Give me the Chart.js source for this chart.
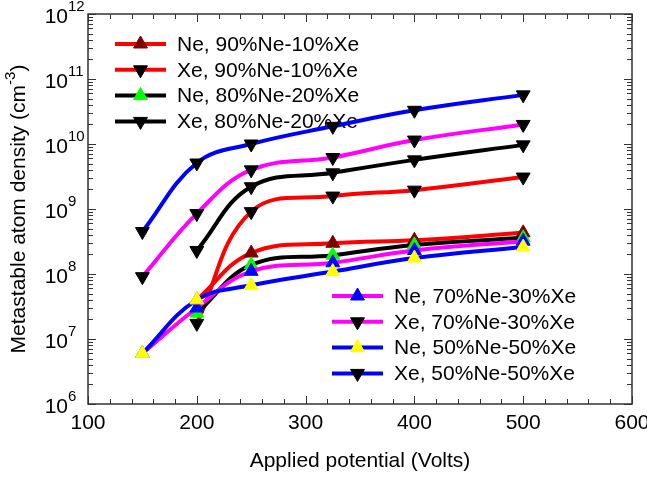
<!DOCTYPE html>
<html><head><meta charset="utf-8">
<script src="https://cdn.jsdelivr.net/npm/chart.js@4"></script>
<style>html,body{margin:0;padding:0;background:#fff}#wrap{width:647px;height:477px;position:relative}</style>
</head><body><div id="wrap"><canvas id="c"></canvas></div>
<script>
// Applied potential (Volts)
const voltages = [150, 200, 250, 325, 400, 500];
// Metastable atom densities (cm^-3); null = not measured
const ne90 = [null, 4.0e7, 2.1e8, 2.97e8, 3.3e8, 4.3e8];
const xe90 = [null, 1.74e7, 9.1e8, 1.58e9, 1.95e9, 3.1e9];
const ne80 = [null, 2.5e7, 1.38e8, 1.95e8, 2.8e8, 3.6e8];
const xe80 = [null, 2.3e8, 2.2e9, 3.6e9, 5.7e9, 9.7e9];
const ne70 = [6.0e6, 3.0e7, 1.1e8, 1.49e8, 2.3e8, 3.2e8];
const xe70 = [9.1e7, 8.5e8, 4.0e9, 6.2e9, 1.15e10, 2.0e10];
const ne50 = [6.0e6, 4.0e7, 6.7e7, 1.09e8, 1.76e8, 2.6e8];
const xe50 = [4.5e8, 5.1e9, 1.0e10, 1.87e10, 3.3e10, 5.7e10];
const seriesNames = ['Ne, 90%Ne-10%Xe','Xe, 90%Ne-10%Xe','Ne, 80%Ne-20%Xe','Xe, 80%Ne-20%Xe',
                     'Ne, 70%Ne-30%Xe','Xe, 70%Ne-30%Xe','Ne, 50%Ne-50%Xe','Xe, 50%Ne-50%Xe'];
const seriesValues = [ne90, xe90, ne80, xe80, ne70, xe70, ne50, xe50];
const xTickLabels = [100, 200, 300, 400, 500, 600];
const yTickExponents = [6, 7, 8, 9, 10, 11, 12];
const xTitle = 'Applied potential (Volts)';
const yTitle = 'Metastable atom density (cm';
const yTitleSup = '-3';

const FONT = "'Liberation Sans', Arial, Helvetica, sans-serif";
const styles = [
  {line:'#FF0000', fill:'#800000', rot:0},
  {line:'#FF0000', fill:'#000000', rot:180},
  {line:'#000000', fill:'#00FF00', rot:0},
  {line:'#000000', fill:'#000000', rot:180},
  {line:'#FF00FF', fill:'#0000FF', rot:0},
  {line:'#FF00FF', fill:'#000000', rot:180},
  {line:'#0000FF', fill:'#FFFF00', rot:0},
  {line:'#0000FF', fill:'#000000', rot:180}
];
function pts(arr){ return voltages.map((v,i)=>({x:v,y:arr[i]})).filter(p=>p.y!=null); }

const datasets = seriesValues.map((arr,i)=>({
  label: seriesNames[i],
  data: pts(arr),
  borderColor: styles[i].line,
  borderWidth: 4,
  tension: 0.4,
  pointStyle: 'triangle',
  pointRadius: 8,
  pointRotation: styles[i].rot,
  pointBackgroundColor: styles[i].fill,
  pointBorderColor: styles[i].fill,
  pointBorderWidth: 1,
  order: 10 - i
}));

const legendPlugin = {
  id: 'customLegend',
  beforeDatasetsDraw(chart){
    const ctx = chart.ctx;
    const groups = [
      {idx:[0,1,2,3], x0:115, x1:166, tx:177, y0:44},
      {idx:[4,5,6,7], x0:332, x1:383, tx:394, y0:296}
    ];
    ctx.save();
    groups.forEach(g=>{
      g.idx.forEach((di,k)=>{
        const y = g.y0 + k*25.8;
        const s = styles[di];
        ctx.strokeStyle = s.line; ctx.lineWidth = 4; ctx.lineCap='butt';
        ctx.beginPath(); ctx.moveTo(g.x0,y); ctx.lineTo(g.x1,y); ctx.stroke();
        ctx.fillStyle = s.fill; ctx.strokeStyle = s.fill; ctx.lineWidth = 1;
        Chart.helpers.drawPoint(ctx, {pointStyle:'triangle', radius:8, rotation:s.rot, borderWidth:1}, (g.x0+g.x1)/2, y);
        ctx.fillStyle = '#000'; ctx.font = '21px ' + FONT; ctx.textBaseline='middle'; ctx.textAlign='left';
        ctx.fillText(seriesNames[di], g.tx, y+1);
      });
    });
    ctx.restore();
  }
};

const framePlugin = {
  id: 'frame',
  afterDatasetsDraw(chart){
    const ctx = chart.ctx, a = chart.chartArea;
    const xs = chart.scales.x, ys = chart.scales.y;
    ctx.save();
    ctx.strokeStyle = '#333'; ctx.lineWidth = 1.5;
    ctx.strokeRect(a.left, a.top, a.right-a.left, a.bottom-a.top);
    ctx.lineWidth = 1;
    // x ticks (bottom & top, inward)
    for (let v = 100; v <= 600; v += 20) {
      const px = Math.round(xs.getPixelForValue(v)) + 0.5;
      const len = (v % 100 === 0) ? 8 : 5;
      ctx.beginPath();
      ctx.moveTo(px, a.bottom); ctx.lineTo(px, a.bottom - len);
      ctx.moveTo(px, a.top); ctx.lineTo(px, a.top + len);
      ctx.stroke();
    }
    // y ticks (left & right, inward)
    for (let e = 6; e <= 12; e++) {
      for (let m = 1; m <= 9; m++) {
        if (e === 12 && m > 1) break;
        const v = m * Math.pow(10, e);
        const py = Math.round(ys.getPixelForValue(v)) + 0.5;
        const len = (m === 1) ? 8 : 5;
        ctx.beginPath();
        ctx.moveTo(a.left, py); ctx.lineTo(a.left + len, py);
        ctx.moveTo(a.right, py); ctx.lineTo(a.right - len, py);
        ctx.stroke();
      }
    }
    // x tick labels
    ctx.fillStyle = '#000';
    ctx.font = '21px ' + FONT; ctx.textAlign = 'center'; ctx.textBaseline = 'middle';
    xTickLabels.forEach(v => ctx.fillText(String(v), xs.getPixelForValue(v), 423));
    // y tick labels 10^n
    yTickExponents.forEach(e => {
      const py = ys.getPixelForValue(Math.pow(10, e));
      ctx.font = '21px ' + FONT; ctx.textAlign = 'right'; ctx.textBaseline = 'middle';
      ctx.fillText('10', 68, py + 3);
      ctx.font = '15px ' + FONT; ctx.textAlign = 'left';
      ctx.fillText(String(e), 68, py - 7);
    });
    // x title
    ctx.font = '21px ' + FONT; ctx.textAlign = 'center'; ctx.textBaseline = 'middle';
    ctx.fillText(xTitle, (a.left + a.right) / 2, 461);
    // y title (rotated)
    ctx.save();
    ctx.translate(19, (a.top + a.bottom) / 2);
    ctx.rotate(-Math.PI / 2);
    ctx.font = '21px ' + FONT;
    const w1 = ctx.measureText(yTitle).width;
    ctx.font = '15px ' + FONT;
    const w2 = ctx.measureText(yTitleSup).width;
    ctx.font = '21px ' + FONT;
    const w3 = ctx.measureText(')').width;
    let x = -(w1 + w2 + w3) / 2;
    ctx.textAlign = 'left'; ctx.textBaseline = 'middle';
    ctx.fillText(yTitle, x, 0); x += w1;
    ctx.font = '15px ' + FONT; ctx.fillText(yTitleSup, x, -8); x += w2;
    ctx.font = '21px ' + FONT; ctx.fillText(')', x, 0);
    ctx.restore();
    ctx.restore();
  }
};

new Chart(document.getElementById('c'), {
  type: 'line',
  data: { datasets },
  options: {
    responsive: true, maintainAspectRatio: false, animation: false, events: [],
    layout: { padding: { left: 88, top: 14, right: 15, bottom: 73 } },
    plugins: { legend: { display: false }, tooltip: { enabled: false } },
    scales: {
      x: { type: 'linear', min: 100, max: 600, display: false },
      y: { type: 'logarithmic', min: 1e6, max: 1e12, display: false }
    }
  },
  plugins: [legendPlugin, framePlugin]
});
</script>
</body></html>
